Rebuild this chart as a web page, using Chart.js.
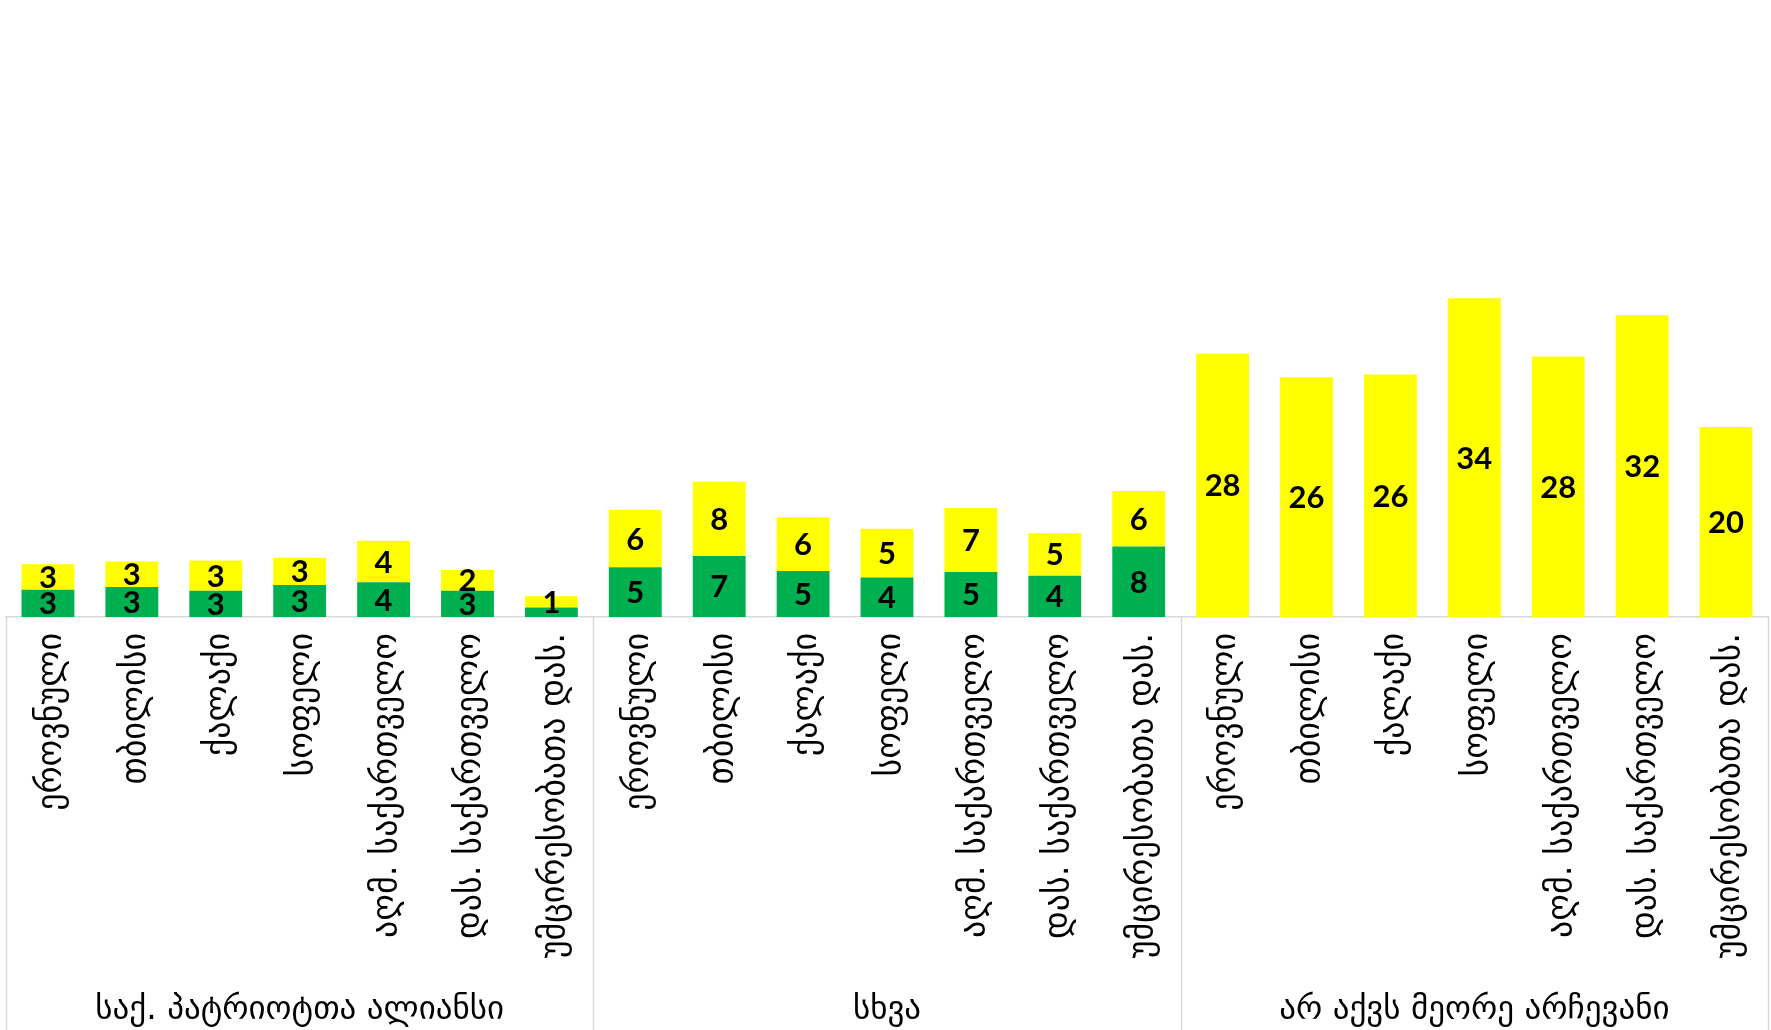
<!DOCTYPE html>
<html>
<head>
<meta charset="utf-8">
<script src="https://cdn.jsdelivr.net/npm/chart.js@4/dist/chart.umd.min.js"></script>
<style>
    html, body { margin: 0; padding: 0; background: #fff; }
    #wrap { width: 1771px; height: 1030px; }
</style>
</head>
<body>
<div id="wrap"><canvas id="chart" width="1771" height="1030"></canvas></div>
<script>
    "use strict";

    const regions = ['ეროვნული', 'თბილისი', 'ქალაქი', 'სოფელი', 'აღმ. საქართველო', 'დას. საქართველო', 'უმცირესობათა დას.'];
    const groups = ['საქ. პატრიოტთა ალიანსი', 'სხვა', 'არ აქვს მეორე არჩევანი'];

    // green (bottom) and yellow (top) segments, per group
    const greenValues = [
        2.9, 3.2, 2.8, 3.4, 3.7, 2.8, 1.0,
        5.3, 6.5, 4.9, 4.2, 4.8, 4.4, 7.5,
        0, 0, 0, 0, 0, 0, 0
    ];
    const yellowValues = [
        2.7, 2.7, 3.2, 2.9, 4.4, 2.2, 1.2,
        6.1, 7.9, 5.7, 5.2, 6.8, 4.5, 5.9,
        28.0, 25.5, 25.8, 33.9, 27.7, 32.1, 20.2
    ];

    const labels = [];
    groups.forEach(function () {
        regions.forEach(function (r) { labels.push(r); });
    });

    const lineColor = '#d9d9d9';

    // numbers in the middle of each segment (tiny segments get none)
    const valueLabels = {
        id: 'valueLabels',
        afterDatasetsDraw(chart) {
            const ctx = chart.ctx;
            ctx.save();
            ctx.font = 'bold 31px Lato, "Liberation Sans", sans-serif';
            ctx.fillStyle = '#000';
            ctx.textAlign = 'center';
            ctx.textBaseline = 'middle';
            chart.data.datasets.forEach(function (ds, i) {
                const meta = chart.getDatasetMeta(i);
                meta.data.forEach(function (bar, j) {
                    const v = ds.data[j];
                    if (!v || v < 1.1) return;
                    ctx.fillText(Math.round(v), bar.x, (bar.y + bar.base) / 2 + 1);
                });
            });
            ctx.restore();
        }
    };

    // group separators and group titles under the region labels
    const groupAxis = {
        id: 'groupAxis',
        afterDraw(chart) {
            const ctx = chart.ctx;
            const x = chart.scales.x;
            const step = x.getPixelForValue(1) - x.getPixelForValue(0);
            const bottom = chart.chartArea.bottom;
            const n = regions.length;
            ctx.save();
            ctx.strokeStyle = lineColor;
            ctx.lineWidth = 1.5;
            for (let g = 0; g <= groups.length; g++) {
                const px = Math.round(x.getPixelForValue(g * n) - step / 2) + 0.5;
                ctx.beginPath();
                ctx.moveTo(px, bottom);
                ctx.lineTo(px, chart.height);
                ctx.stroke();
            }
            ctx.font = '33px "DejaVu Sans", sans-serif';
            ctx.fillStyle = '#000';
            ctx.textAlign = 'center';
            ctx.textBaseline = 'middle';
            groups.forEach(function (name, g) {
                const cx = (x.getPixelForValue(g * n) + x.getPixelForValue(g * n + n - 1)) / 2;
                ctx.fillText(name, cx, 1010);
            });
            ctx.restore();
        }
    };

    new Chart(document.getElementById('chart'), {
        type: 'bar',
        data: {
            labels: labels,
            datasets: [{
                label: 'green',
                data: greenValues,
                backgroundColor: '#00b050',
                borderWidth: 0
            }, {
                label: 'yellow',
                data: yellowValues,
                backgroundColor: '#ffff00',
                borderWidth: 0
            }]
        },
        options: {
            responsive: false,
            animation: false,
            events: [],
            layout: {
                padding: { top: 53, left: 6, right: 3, bottom: 0 }
            },
            plugins: {
                legend: { display: false },
                tooltip: { enabled: false }
            },
            datasets: {
                bar: { categoryPercentage: 1, barPercentage: 0.63 }
            },
            scales: {
                x: {
                    stacked: true,
                    grid: { display: false, drawTicks: false },
                    border: { display: true, color: lineColor, width: 1.5 },
                    ticks: {
                        autoSkip: false,
                        minRotation: 90,
                        maxRotation: 90,
                        padding: 16,
                        labelOffset: 4,
                        color: '#000',
                        font: { family: '"DejaVu Sans", sans-serif', size: 34 }
                    },
                    afterFit(scale) {
                        scale.height = 413;
                        scale.paddingLeft = 0;
                        scale.paddingRight = 0;
                    }
                },
                y: {
                    stacked: true,
                    display: false,
                    min: 0,
                    max: 60
                }
            }
        },
        plugins: [valueLabels, groupAxis]
    });
</script>
</body>
</html>
